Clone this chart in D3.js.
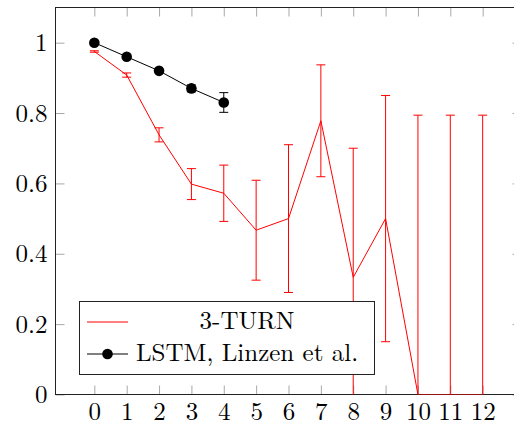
<!DOCTYPE html>
<html>
<head>
<meta charset="utf-8">
<script src="https://cdn.jsdelivr.net/npm/d3@7"></script>
<style>
  body { margin: 0; background: #fff; }
</style>
</head>
<body>
<svg id="chart" width="514" height="425"></svg>
<script>
// ************************************
// Data
// ************************************
const steps = [0, 1, 2, 3, 4, 5, 6, 7, 8, 9, 10, 11, 12];
const turnMean = [0.975, 0.908, 0.738, 0.598, 0.572, 0.467, 0.5, 0.778, 0.333, 0.5, 0, 0, 0];
const turnErr = [0.002, 0.006, 0.02, 0.044, 0.08, 0.142, 0.21, 0.159, 0.367, 0.35, 0.794, 0.794, 0.794];

const lstmSteps = [0, 1, 2, 3, 4];
const lstmMean = [1.0, 0.96, 0.92, 0.87, 0.83];
const lstmErr = [0, 0, 0, 0.01, 0.028];

const yTicks = [0, 0.2, 0.4, 0.6, 0.8, 1];
const legendLabels = ["3-TURN", "LSTM, Linzen et al."];

// ************************************
// Plot frame
// ************************************
const svg = d3.select("#chart");

const plotLeft = 55.5, plotRight = 521.5, plotTop = 7.5, plotBottom = 394.5;

const x = d3.scaleLinear().domain([-1.2, 13.2]).range([plotLeft, plotRight]);
const y = d3.scaleLinear().domain([0, 1.1]).range([plotBottom, plotTop]);

const fontFamily = "'Latin Modern Roman', 'CMU Serif', 'Liberation Serif', Tinos, 'Nimbus Roman', 'Times New Roman', Times, 'DejaVu Serif', FreeSerif, serif";
const fontSize = 25;

// ticks (inward, gray)
svg.append("g")
    .attr("transform", `translate(0,${plotBottom})`)
    .call(d3.axisBottom(x).tickValues(steps).tickSize(-9).tickPadding(8).tickFormat(d => d));
svg.append("g")
    .attr("transform", `translate(0,${plotTop})`)
    .call(d3.axisTop(x).tickValues(steps).tickSize(-9).tickFormat(""));
svg.append("g")
    .attr("transform", `translate(${plotLeft},0)`)
    .call(d3.axisLeft(y).tickValues(yTicks).tickSize(-9).tickPadding(8).tickFormat(d => String(d)));
svg.append("g")
    .attr("transform", `translate(${plotRight},0)`)
    .call(d3.axisRight(y).tickValues(yTicks).tickSize(-9).tickFormat(""));

svg.selectAll(".domain").remove();
svg.selectAll("g").attr("font-family", fontFamily).attr("font-size", fontSize);
svg.selectAll(".tick line").attr("stroke", "#a8a8a8").attr("stroke-width", 1);
svg.selectAll(".tick text")
    .attr("fill", "#000")
    .attr("font-family", fontFamily)
    .attr("font-size", fontSize);

// frame
svg.append("rect")
    .attr("x", plotLeft).attr("y", plotTop)
    .attr("width", plotRight - plotLeft).attr("height", plotBottom - plotTop)
    .attr("fill", "none")
    .attr("stroke", "#222")
    .attr("stroke-width", 1);

// clip for data
svg.append("clipPath").attr("id", "plotClip")
  .append("rect")
    .attr("x", plotLeft).attr("y", plotTop)
    .attr("width", plotRight - plotLeft).attr("height", plotBottom - plotTop);

const plot = svg.append("g").attr("clip-path", "url(#plotClip)");

// ************************************
// Series
// ************************************
function drawErrorBars(g, xs, means, errs, color) {
    const cap = 4.5;
    xs.forEach((xv, i) => {
        if (errs[i] <= 0) return;
        const y0 = y(means[i] - errs[i]);
        const y1 = y(means[i] + errs[i]);
        const cx = x(xv);
        g.append("line")
            .attr("x1", cx).attr("x2", cx).attr("y1", y0).attr("y2", y1)
            .attr("stroke", color).attr("stroke-width", 1);
        [y0, y1].forEach(yy => {
            g.append("line")
                .attr("x1", cx - cap).attr("x2", cx + cap).attr("y1", yy).attr("y2", yy)
                .attr("stroke", color).attr("stroke-width", 1);
        });
    });
}

const line = d3.line().x(d => x(d[0])).y(d => y(d[1]));

// 3-TURN (red)
drawErrorBars(plot, steps, turnMean, turnErr, "red");
plot.append("path")
    .attr("d", line(steps.map((s, i) => [s, turnMean[i]])))
    .attr("fill", "none")
    .attr("stroke", "red")
    .attr("stroke-width", 1);

// LSTM (black)
drawErrorBars(plot, lstmSteps, lstmMean, lstmErr, "black");
plot.append("path")
    .attr("d", line(lstmSteps.map((s, i) => [s, lstmMean[i]])))
    .attr("fill", "none")
    .attr("stroke", "black")
    .attr("stroke-width", 1);
plot.selectAll(".lstm-dot")
    .data(lstmSteps)
    .enter()
    .append("circle")
    .attr("class", "lstm-dot")
    .attr("cx", d => x(d))
    .attr("cy", (d, i) => y(lstmMean[i]))
    .attr("r", 5.3)
    .attr("fill", "black");

// ************************************
// Legend
// ************************************
const legend = svg.append("g");
legend.append("rect")
    .attr("x", 79.5).attr("y", 301.5)
    .attr("width", 295).attr("height", 73)
    .attr("fill", "white")
    .attr("stroke", "#222")
    .attr("stroke-width", 1);

const rows = [
    { label: legendLabels[0], color: "red", marker: false, ly: 322, ty: 329 },
    { label: legendLabels[1], color: "black", marker: true, ly: 354, ty: 361 }
];
rows.forEach(r => {
    legend.append("line")
        .attr("x1", 87).attr("x2", 128).attr("y1", r.ly).attr("y2", r.ly)
        .attr("stroke", r.color).attr("stroke-width", 1);
    if (r.marker) {
        legend.append("circle")
            .attr("cx", 107.5).attr("cy", r.ly).attr("r", 5.3).attr("fill", "black");
    }
    legend.append("text")
        .attr("x", 247).attr("y", r.ty)
        .attr("text-anchor", "middle")
        .attr("font-family", fontFamily)
        .attr("font-size", fontSize)
        .text(r.label);
});
</script>
</body>
</html>
